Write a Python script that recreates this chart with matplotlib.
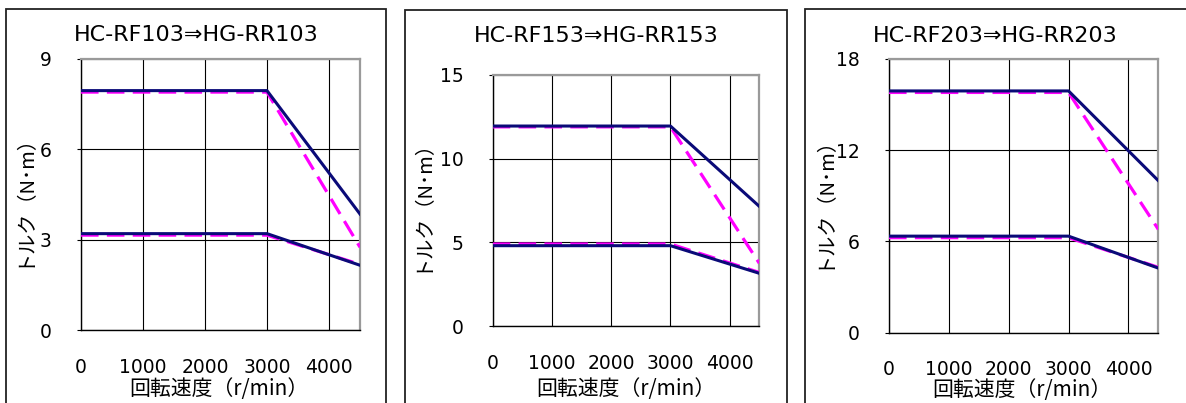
import matplotlib
matplotlib.use("Agg")
import matplotlib.pyplot as plt
from matplotlib.patches import Rectangle

W, H = 1186, 403

speed = [0, 3000, 4500]

titles = ["HC-RF103⇒HG-RR103", "HC-RF153⇒HG-RR153", "HC-RF203⇒HG-RR203"]
y_max = [9, 15, 18]
y_ticks = [[0, 3, 6, 9], [0, 5, 10, 15], [0, 6, 12, 18]]
x_ticks = [0, 1000, 2000, 3000, 4000]

# old motor (HC-RF) - dashed magenta
old_max = [[7.9, 7.9, 2.75], [11.9, 11.9, 3.75], [15.8, 15.8, 6.8]]
old_rated = [[3.15, 3.15, 2.18], [4.9, 4.9, 3.2], [6.25, 6.25, 4.3]]
# new motor (HG-RR) - solid navy
new_max = [[7.95, 7.95, 3.85], [11.95, 11.95, 7.15], [15.9, 15.9, 10.0]]
new_rated = [[3.2, 3.2, 2.15], [4.8, 4.8, 3.15], [6.35, 6.35, 4.25]]

xlabel = "回転速度（r/min）"
ylabel = "トルク（N･m）"

# layout in pixels: (left, top, right, bottom)
ax_px = [(81, 59, 360, 330), (492.7, 75, 759.3, 326), (889, 59, 1158.3, 332.7)]
title_px = [(196, 35), (596, 36), (995, 36)]
xlabel_px = [(219, 389), (626, 389), (1022, 390)]
ylabel_px = [(23, 195), (421, 200), (823, 197)]
box_px = [(6, 9, 386), (405, 10, 787), (805, 9, 1200)]

fig = plt.figure(figsize=(W / 100, H / 100), dpi=100)
fig.patch.set_facecolor("white")

lat = ["DejaVu Sans", "Noto Sans CJK JP"]
jp = ["Noto Sans CJK JP", "DejaVu Sans"]

for i in range(3):
    l, t, r, b = ax_px[i]
    ax = fig.add_axes([l / W, 1 - b / H, (r - l) / W, (b - t) / H])
    ax.plot(speed, old_max[i], color="#FF00FF", lw=2.3, ls=(0, (5.5, 2.6)), zorder=3)
    ax.plot(speed, old_rated[i], color="#FF00FF", lw=2.3, ls=(0, (5.5, 2.6)), zorder=3)
    ax.plot(speed, new_max[i], color="#0A0A78", lw=2.2, zorder=4)
    ax.plot(speed, new_rated[i], color="#0A0A78", lw=2.2, zorder=4)
    ax.set_xlim(0, 4500)
    ax.set_ylim(0, y_max[i])
    ax.set_xticks(x_ticks)
    ax.set_yticks(y_ticks[i])
    ax.grid(True, color="black", lw=0.8, zorder=1)
    ax.set_axisbelow(True)
    for s in ["left", "bottom"]:
        ax.spines[s].set_color("black")
        ax.spines[s].set_linewidth(1.0)
    for s in ["top", "right"]:
        ax.spines[s].set_color("#9a9a9a")
        ax.spines[s].set_linewidth(1.6)
    ax.tick_params(axis="x", length=0, pad=20, labelsize=13.5)
    ax.tick_params(axis="y", length=3, direction="out", pad=18, labelsize=13.5)
    for lab in ax.get_xticklabels() + ax.get_yticklabels():
        lab.set_family(lat)
    tx, ty = title_px[i]
    fig.text(tx / W, 1 - ty / H, titles[i], ha="center", va="center",
             fontsize=16, family=lat)
    xx, xy = xlabel_px[i]
    fig.text(xx / W, 1 - xy / H, xlabel, ha="center", va="center",
             fontsize=15, family=jp)
    yx, yy = ylabel_px[i]
    fig.text(yx / W, 1 - yy / H, ylabel, ha="center", va="center",
             fontsize=14.5, family=jp, rotation=90)
    bl, bt, br = box_px[i]
    fig.add_artist(Rectangle((bl / W, -0.2), (br - bl) / W, 1 - bt / H + 0.2,
                             transform=fig.transFigure, fill=False,
                             edgecolor="#222222", lw=1.3, clip_on=False))

fig.savefig("out.png", dpi=100, facecolor="white")
